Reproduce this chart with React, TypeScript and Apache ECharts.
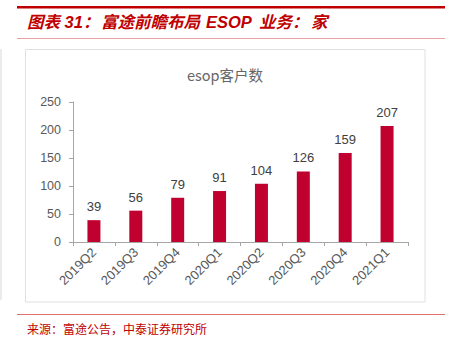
import React, { useEffect, useRef } from "react";
import * as echarts from "echarts";

const categories = ["2019Q2", "2019Q3", "2019Q4", "2020Q1", "2020Q2", "2020Q3", "2020Q4", "2021Q1"];
const values = [39, 56, 79, 91, 104, 126, 159, 207];
const yTicks = [0, 50, 100, 150, 200, 250];

const titleFont = "italic bold 16.5px 'Liberation Sans', 'Noto Sans CJK SC', sans-serif";

function titlePiece(text: string, x: number) {
  return {
    type: "text", x, y: 22,
    style: { text, font: titleFont, fill: "#C00000", textVerticalAlign: "middle" },
  };
}

export default function App() {
  const ref = useRef<HTMLDivElement>(null);
  useEffect(() => {
    if (!ref.current) return;
    const chart = echarts.init(ref.current, undefined, { renderer: "svg" });
    chart.setOption({
      animation: false,
      backgroundColor: "#ffffff",
      graphic: [
        { type: "rect", shape: { x: 17, y: 6, width: 428, height: 2.5 }, style: { fill: "#C00000" } },
        titlePiece("图表 31：", 27),
        titlePiece("富途前瞻布局", 101),
        titlePiece("ESOP", 206),
        titlePiece("业务：", 259),
        titlePiece("家", 311),
        { type: "rect", shape: { x: 17, y: 38, width: 428, height: 1 }, style: { fill: "#E8A0A0" } },
        { type: "rect", shape: { x: 25.5, y: 49.5, width: 399.5, height: 252.5 }, style: { fill: "none", stroke: "#E0E0E0", lineWidth: 1 } },
        { type: "rect", shape: { x: 0, y: 49, width: 2, height: 251 }, style: { fill: "#EBEBEB" } },
        {
          type: "text", x: 225, y: 74,
          style: {
            text: "esop客户数",
            font: "14.5px 'Noto Sans CJK SC', sans-serif",
            fill: "#666666", textAlign: "center", textVerticalAlign: "middle",
          },
        },
        { type: "rect", shape: { x: 17, y: 314, width: 428, height: 1 }, style: { fill: "#E07070" } },
        {
          type: "text", x: 27, y: 328,
          style: {
            text: "来源：富途公告，中泰证券研究所",
            font: "12px 'Noto Sans CJK SC', sans-serif",
            fill: "#C00000", textVerticalAlign: "middle",
          },
        },
      ],
      grid: { left: 73, top: 102, right: 42, bottom: 100 },
      xAxis: {
        type: "category",
        data: categories,
        axisLine: { lineStyle: { color: "#A6A6A6" } },
        axisTick: { show: true, length: 4, lineStyle: { color: "#A6A6A6" } },
        axisLabel: { rotate: 45, color: "#595959", fontSize: 13, fontFamily: "Liberation Sans, Arial, sans-serif", margin: 8 },
      },
      yAxis: {
        type: "value",
        min: yTicks[0],
        max: yTicks[yTicks.length - 1],
        interval: 50,
        axisLine: { show: true, lineStyle: { color: "#A6A6A6" } },
        axisTick: { show: true, length: 4, lineStyle: { color: "#A6A6A6" } },
        splitLine: { show: false },
        axisLabel: { color: "#595959", fontSize: 12.5, fontFamily: "Liberation Sans, Arial, sans-serif", margin: 12 },
      },
      series: [
        {
          type: "bar",
          data: values,
          barWidth: 13,
          itemStyle: { color: "#C0002F" },
          label: {
            show: true, position: "top", distance: 7,
            color: "#404040", fontSize: 13, fontFamily: "Liberation Sans, Arial, sans-serif",
          },
        },
      ],
    });
    return () => chart.dispose();
  }, []);
  return <div ref={ref} style={{ width: 450, height: 342, position: "absolute", left: 0, top: 0 }} />;
}
